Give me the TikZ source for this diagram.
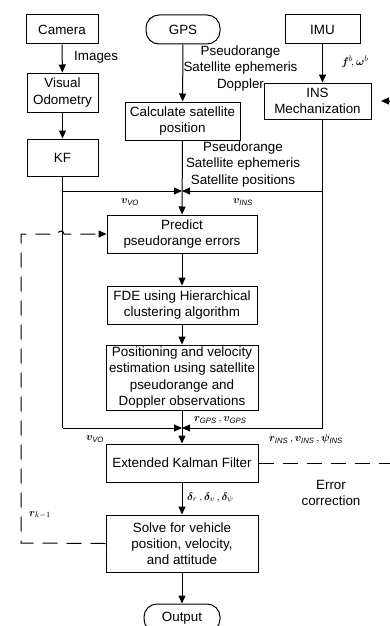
\documentclass[tikz,border=0pt]{standalone}
\usepackage{fontspec}
\setmainfont{Liberation Sans}
\usepackage{amsmath}
\usepackage{bm}
\usetikzlibrary{arrows.meta}

\tikzset{
  every node/.style={font=\fontsize{13.4}{16.2}\selectfont, inner sep=0pt},
  proc/.style={draw, line width=1pt, align=center, fill=white},
  term/.style={draw, line width=1pt, rounded corners=13pt, align=center},
  flow/.style={line width=1pt, -{Triangle[length=8pt,width=7pt]}},
  wire/.style={line width=1pt},
  fb/.style={line width=1pt, dash pattern=on 15pt off 9pt},
  sym/.style={font=\fontsize{11}{13}\selectfont},
}

\begin{document}
\begin{tikzpicture}[x=1pt, y=-1pt]
\useasboundingbox (0,0) rectangle (390,626);
\clip (0,0) rectangle (390,626);

% sources
\node[proc, minimum width=72pt, minimum height=29pt] (cam) at (62,29.5) {Camera};
\node[term, minimum width=74pt, minimum height=29pt] (gps) at (183,29.5) {GPS};
\node[proc, minimum width=75pt, minimum height=29pt] (imu) at (322.5,29.5) {IMU};

% first processing stage
\node[proc, minimum width=71pt, minimum height=39pt] (vo) at (62.5,92.5) {Visual\\Odometry};
\node[proc, minimum width=71pt, minimum height=37pt] (kf) at (62.5,157.5) {KF};
\node[proc, minimum width=115pt, minimum height=38pt] (calc) at (182.5,121) {Calculate satellite\\position};
\node[proc, minimum width=107pt, minimum height=36pt] (ins) at (317.5,101) {INS\\Mechanization};

% GNSS chain
\node[proc, minimum width=150pt, minimum height=38pt] (pred) at (182,234) {Predict\\pseudorange errors};
\node[proc, minimum width=150pt, minimum height=38pt] (fde) at (182,305) {FDE using Hierarchical\\clustering algorithm};
\node[proc, minimum width=152pt, minimum height=65pt] (pos) at (182,377.5) {Positioning and velocity\\estimation using satellite\\pseudorange and\\Doppler observations};
\node[proc, minimum width=152pt, minimum height=38pt] (ekf) at (182,463) {Extended Kalman Filter};
\node[proc, minimum width=152pt, minimum height=57pt] (solve) at (182,543.5) {Solve for vehicle\\position, velocity,\\and attitude};
\node[term, minimum width=76pt, minimum height=28pt] (out) at (182,618) {Output};

% junction points
\coordinate (j1) at (182,191);
\coordinate (j2) at (182,428);
\coordinate (insdown) at (imu.south |- ins.south);
\coordinate (ecin) at (381,101);
\coordinate (ecout) at (396,101);
\coordinate (lfb) at (21,543);
\coordinate (lft) at (21,234);
\coordinate (hop) at (58,234);
\coordinate (rfb) at (396,463);

% main flow
\draw[flow] (cam) -- (vo);
\draw[flow] (vo) -- (kf);
\draw[flow] (gps) -- (calc);
\draw[flow] (imu.south) -- (imu.south |- ins.north);
\draw[flow] (calc) -- (pred);
\draw[flow] (pred) -- (fde);
\draw[flow] (fde) -- (pos);
\draw[flow] (pos) -- (ekf);
\draw[flow] (ekf) -- (solve);
\draw[flow] (solve) -- (out);

% velocity aiding into the prediction
\draw[wire] (kf.south) -- (kf.south |- j2);
\draw[flow] (kf.south |- j1) -- (j1);
\draw[wire] (insdown) -- (insdown |- j2);
\draw[flow] (insdown |- j1) -- (j1);

% inputs of the filter
\draw[flow] (kf.south |- j2) -- (j2);
\draw[flow] (insdown |- j2) -- (j2);

% feedback paths
\draw[fb] (ekf.east) -- (rfb);
\draw[flow, fb] (ecout) -- (ecin);
\draw[fb, flow] (solve.west) -- (lfb) -- (lft) -- (hop)
  arc[start angle=180, end angle=0, radius=3pt] -- (pred.west);

% labels
\node[anchor=west] (limg) at (74,57) {Images};
\node[align=center] (lgps) at (240.5,68.5) {Pseudorange\\Satellite ephemeris\\Doppler};
\node[sym] (limu) at (355,62) {$\bm{f}^{b}\!,\bm{\omega}^{b}$};
\node[align=center] (lcalc) at (243,164.5) {Pseudorange\\Satellite ephemeris\\Satellite positions};
\node[sym] (lvo1) at (130,202) {$\bm{v}_{\mathit{VO}}$};
\node[sym] (lins1) at (243,202) {$\bm{v}_{\mathit{INS}}$};
\node[sym, anchor=west] (lgpsv) at (194,420) {$\bm{r}_{\mathit{GPS}}\,,\bm{v}_{\mathit{GPS}}$};
\node[sym] (lvo2) at (95,439) {$\bm{v}_{\mathit{VO}}$};
\node[sym] (lins2) at (306,439) {$\bm{r}_{\mathit{INS}}\,,\bm{v}_{\mathit{INS}}\,,\bm{\psi}_{\mathit{INS}}$};
\node[sym, anchor=west] (ldel) at (187,498) {$\bm{\delta}_{r}\,,\bm{\delta}_{v}\,,\bm{\delta}_{\psi}$};
\node[align=center] (lerr) at (331,493) {Error\\correction};
\node[sym] (lrk) at (40,515) {$\bm{r}_{k-1}$};
\end{tikzpicture}
\end{document}
